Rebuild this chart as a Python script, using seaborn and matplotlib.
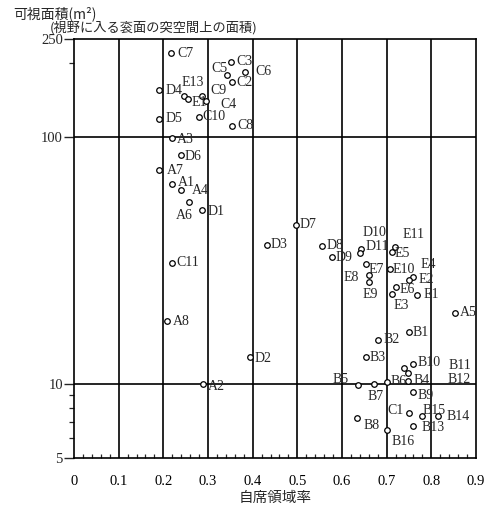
import matplotlib
matplotlib.use("Agg")
import matplotlib.pyplot as plt
import seaborn as sns
import pandas as pd
from matplotlib.ticker import FixedLocator, NullFormatter, MultipleLocator

# ---- data ----
labels = ["C7", "C3", "C5", "C6", "C2", "D4", "E13", "E1", "C9", "C4", "D5", "C10", "C8",
          "A3", "D6", "A7", "A1", "A4", "A6", "D1", "D3", "C11", "A8", "D2", "A2",
          "D7", "D8", "D9", "D10", "D11", "E5", "E11", "E7", "E10", "E4", "E2", "E8", "E9",
          "E6", "E3", "E1", "A5",
          "B1", "B2", "B3", "B10", "B11", "B12", "B5", "B7", "B6", "B4", "B9", "C1", "B15",
          "B14", "B13", "B8", "B16"]
x_rate = [0.217, 0.351, 0.343, 0.383, 0.353, 0.191, 0.247, 0.256, 0.286, 0.295, 0.191, 0.280, 0.353,
          0.219, 0.239, 0.190, 0.219, 0.239, 0.258, 0.287, 0.431, 0.219, 0.2075, 0.394, 0.288,
          0.497, 0.5545, 0.577, 0.642, 0.640, 0.711, 0.718, 0.654, 0.7074, 0.760, 0.751, 0.661, 0.661,
          0.721, 0.711, 0.767, 0.853,
          0.750, 0.681, 0.653, 0.760, 0.739, 0.747, 0.635, 0.672, 0.701, 0.748, 0.758, 0.750, 0.778,
          0.816, 0.760, 0.634, 0.701]
area = [219, 202, 179, 184, 167, 155, 147, 143, 147, 140, 119, 121, 111,
        98.8, 84.5, 73.6, 64.4, 60.9, 54.6, 50.5, 36.7, 30.9, 17.9, 12.8, 9.97,
        43.9, 36.2, 32.7, 35.3, 34.0, 34.2, 35.7, 30.5, 29.1, 27.2, 26.3, 27.5, 25.8,
        24.7, 23.2, 23.0, 19.4,
        16.2, 15.1, 12.8, 12.0, 11.6, 11.1, 9.9, 10.0, 10.2, 10.3, 9.3, 7.64, 7.41,
        7.41, 6.75, 7.26, 6.50]
x_ticks = [0, 0.1, 0.2, 0.3, 0.4, 0.5, 0.6, 0.7, 0.8, 0.9]
x_tick_labels = ["0", "0.1", "0.2", "0.3", "0.4", "0.5", "0.6", "0.7", "0.8", "0.9"]
y_ticks = [5, 10, 100, 250]
y_tick_labels = ["5", "10", "100", "250"]

# label offsets in pixels (dx right, dy down) -- styling only
offsets = [(6, 0), (6, 0), (-16, -6), (10, 0), (5, 0), (6, 0), (-3, -13), (3, 4), (9, -5), (15, 3), (6, 0), (3, 0), (6, 0),
           (5, 1), (4, 1), (8, 1), (6, -2), (11, 0), (-13, 14), (5, 1), (4, 0), (5, 0), (6, 0), (5, 1), (5, 2),
           (4, -1), (5, 0), (4, 1), (2, -16), (6, -6), (3, 1), (8, -13), (2, 5), (3, 0), (7, -12), (9, -1), (-26, 2), (-7, 12),
           (3, 3), (2, 12), (7, 0), (5, 0),
           (4, 0), (5, 0), (4, 0), (4, -2), (44, -2), (40, 7), (-25, -5), (-7, 13), (3, 0), (5, 0), (5, 4), (-22, -2), (1, -5),
           (8, 1), (8, 2), (6, 7), (4, 12)]

df = pd.DataFrame({"label": labels, "rate": x_rate, "area": area})

sns.set_style("ticks")
plt.rcParams["font.family"] = ["Liberation Serif", "DejaVu Serif"]
plt.rcParams["axes.linewidth"] = 1.2

fig = plt.figure(figsize=(5.02, 5.09), dpi=100)
ax = fig.add_axes([74 / 502, 1 - 458 / 509, 402 / 502, 419 / 509])

sns.scatterplot(data=df, x="rate", y="area", ax=ax, marker="o", s=16,
                facecolor="white", edgecolor="black", linewidth=0.9, zorder=5)

ax.set_yscale("log")
ax.set_xlim(0, 0.9)
ax.set_ylim(5, 250)

for xv in x_ticks[1:-1]:
    ax.axvline(xv, color="black", lw=1.2, zorder=1)
for yv in [10, 100]:
    ax.axhline(yv, color="black", lw=1.2, zorder=1)

for s in ax.spines.values():
    s.set_visible(True)
    s.set_color("black")
    s.set_linewidth(1.2)

ax.xaxis.set_major_locator(FixedLocator(x_ticks))
ax.set_xticklabels(x_tick_labels)
ax.xaxis.set_minor_locator(MultipleLocator(0.02))
ax.tick_params(axis="x", which="major", length=0, pad=12, labelsize=10.5, colors="black")
ax.tick_params(axis="x", which="minor", direction="in", length=3, width=0.9, bottom=True, top=False)

ax.yaxis.set_major_locator(FixedLocator(y_ticks))
ax.set_yticklabels(y_tick_labels)
ax.yaxis.set_minor_locator(FixedLocator([6, 7, 8, 9, 200]))
ax.yaxis.set_minor_formatter(NullFormatter())
ax.tick_params(axis="y", which="major", direction="out", length=7, width=1.0, pad=1, labelsize=10.5)
ax.tick_params(axis="y", which="minor", direction="out", length=3.5, width=0.9)

ax.set_xlabel("自席領域率", family=["Noto Sans CJK JP", "DejaVu Sans"], fontsize=10.5, labelpad=2)
ax.set_ylabel("")

for lab, xv, yv, (dx, dy) in zip(labels, x_rate, area, offsets):
    ax.annotate(lab, (xv, yv), xytext=(dx, -dy), textcoords="offset pixels",
                ha="left", va="center", fontsize=10, zorder=6, annotation_clip=False)

fig.text(13 / 502, 1 - 14 / 509, "可視面積(m²)", family=["Noto Sans CJK JP", "DejaVu Sans"],
         fontsize=10, ha="left", va="center")
fig.text(50 / 502, 1 - 28 / 509, "(視野に入る衮面の突空間上の面積)", family=["Noto Sans CJK JP", "DejaVu Sans"],
         fontsize=9.5, ha="left", va="center")

fig.savefig("out.png", dpi=100, facecolor="white")
